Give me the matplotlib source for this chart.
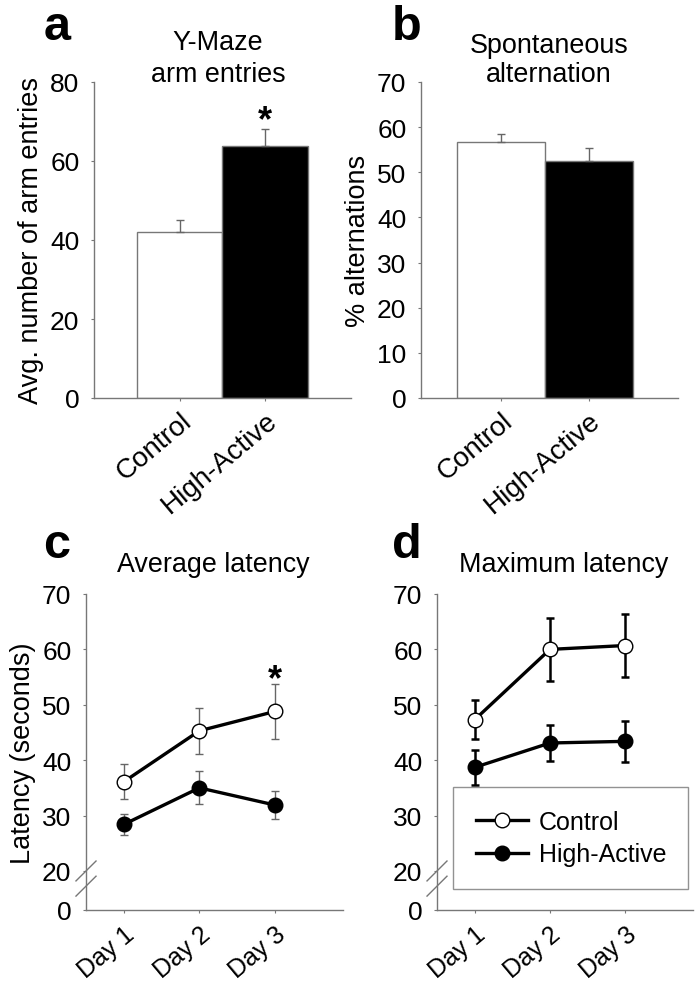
import matplotlib
matplotlib.use("Agg")
import matplotlib.pyplot as plt

plt.rcParams['font.family'] = ['Liberation Sans', 'DejaVu Sans']

# ---- data ----
groups = ["Control", "High-Active"]
entries_mean = [42.0, 63.9]
entries_err = [3.1, 4.1]

alt_mean = [56.8, 52.6]
alt_err = [1.7, 2.8]

days = ["Day 1", "Day 2", "Day 3"]
avg_ctrl = [36.1, 45.3, 48.8]
avg_ctrl_err = [3.2, 4.1, 4.9]
avg_high = [28.4, 35.0, 31.9]
avg_high_err = [1.9, 3.0, 2.6]

max_ctrl = [47.3, 60.0, 60.7]
max_ctrl_err = [3.5, 5.7, 5.6]
max_high = [38.7, 43.1, 43.4]
max_high_err = [3.1, 3.3, 3.7]

AX_GRAY = "#777777"
TICK_FS = 19
LABEL_FS = 19.5
TITLE_FS = 19.4
BREAK_AT = 12.95  # where "0" sits below the axis break

fig = plt.figure(figsize=(6.97, 9.87), dpi=100)
W, H = 697, 987


def add_axes(left, right, top, bottom):
    return fig.add_axes([left / W, 1 - bottom / H, (right - left) / W, (bottom - top) / H])


def ftext(x, y, s, **kw):
    # place text using pixel coords measured from the top-left
    fig.text(x / W, 1 - y / H, s, **kw)


def style(ax, xtick_fs, xpad):
    for s in ["top", "right"]:
        ax.spines[s].set_visible(False)
    for s in ["left", "bottom"]:
        ax.spines[s].set_color(AX_GRAY)
        ax.spines[s].set_linewidth(1.0)
    ax.tick_params(axis="both", colors=AX_GRAY, length=2.5, width=0.8, labelcolor="black")
    ax.tick_params(axis="y", pad=8, labelsize=TICK_FS)
    ax.tick_params(axis="x", pad=xpad, labelsize=xtick_fs)


def bar_panel(ax, means, errs, xlim, ymax, ystep, ylabel):
    x = range(len(groups))
    ax.bar(x, means, width=1.0, color=["white", "black"], edgecolor=AX_GRAY, linewidth=1.0)
    ax.errorbar(x, means, yerr=[[0] * len(errs), errs], fmt="none", ecolor="#666666",
                elinewidth=1.0, capsize=2.6, capthick=1.0)
    ax.set_xlim(*xlim)
    ax.set_ylim(0, ymax)
    ax.set_yticks(range(0, ymax + 1, ystep))
    ax.set_xticks(list(x))
    ax.set_xticklabels(groups, rotation=40, ha="right", va="top", rotation_mode="anchor")
    ax.set_ylabel(ylabel, fontsize=LABEL_FS, labelpad=4)
    style(ax, 20, 4)


def line_panel(ax, ctrl, ctrl_err, high, high_err, err_color, err_lw):
    x = range(len(days))
    ax.errorbar(x, ctrl, yerr=ctrl_err, fmt="none", ecolor=err_color, elinewidth=err_lw,
                capsize=2.8, capthick=err_lw, zorder=2)
    ax.errorbar(x, high, yerr=high_err, fmt="none", ecolor=err_color, elinewidth=err_lw,
                capsize=2.8, capthick=err_lw, zorder=2)
    ax.plot(x, ctrl, "-o", color="black", lw=2.4, ms=10.5, mfc="white", mec="black",
            mew=1.0, label="Control", zorder=3)
    ax.plot(x, high, "-o", color="black", lw=2.4, ms=10.5, mfc="black", mec="black",
            mew=1.0, label="High-Active", zorder=3)
    ax.set_xlim(-0.5, 2.9)
    ax.set_ylim(BREAK_AT, 70)
    ax.set_yticks([BREAK_AT, 20, 30, 40, 50, 60, 70])
    ax.set_yticklabels(["0", "20", "30", "40", "50", "60", "70"])
    ax.set_xticks(list(x))
    ax.set_xticklabels(days, rotation=40, ha="right", va="top", rotation_mode="anchor")
    style(ax, 18, 6)
    # axis break marks
    for y0 in (0.092, 0.044):
        ax.plot([-0.039, 0.039], [y0, y0 + 0.063], color=AX_GRAY, lw=1.0,
                transform=ax.transAxes, clip_on=False)


# panel a
ax_a = add_axes(94, 351, 83, 399)
bar_panel(ax_a, entries_mean, entries_err, (-1.0, 2.0), 80, 20, "Avg. number of arm entries")
ax_a.text(1, 67.8, "*", ha="center", va="baseline", fontsize=26, fontweight="bold")
ftext(218, 50, "Y-Maze", ha="center", va="baseline", fontsize=TITLE_FS)
ftext(218, 82, "arm entries", ha="center", va="baseline", fontsize=TITLE_FS)
ftext(44, 40, "a", fontsize=35, fontweight="bold", va="baseline")

# panel b
ax_b = add_axes(421, 678, 83, 399)
bar_panel(ax_b, alt_mean, alt_err, (-0.91, 2.01), 70, 10, "% alternations")
ftext(549, 53, "Spontaneous", ha="center", va="baseline", fontsize=TITLE_FS)
ftext(549, 82, "alternation", ha="center", va="baseline", fontsize=TITLE_FS)
ftext(392, 40, "b", fontsize=35, fontweight="bold", va="baseline")

# panel c
ax_c = add_axes(86, 343, 595, 911)
line_panel(ax_c, avg_ctrl, avg_ctrl_err, avg_high, avg_high_err, "#666666", 1.0)
ax_c.set_ylabel("Latency (seconds)", fontsize=LABEL_FS, labelpad=4)
ax_c.text(2, 52.8, "*", ha="center", va="baseline", fontsize=26, fontweight="bold")
ftext(213, 572, "Average latency", ha="center", va="baseline", fontsize=TITLE_FS)
ftext(43, 558, "c", fontsize=35, fontweight="bold", va="baseline")

# panel d
ax_d = add_axes(437, 693, 595, 911)
line_panel(ax_d, max_ctrl, max_ctrl_err, max_high, max_high_err, "black", 1.8)
ftext(564, 572, "Maximum latency", ha="center", va="baseline", fontsize=TITLE_FS)
ftext(392, 558, "d", fontsize=35, fontweight="bold", va="baseline")
leg = ax_d.legend(loc="lower left", bbox_to_anchor=((453 - 437) / 256, (911 - 890) / 316,
                                                     (688 - 453) / 256, (890 - 793) / 316),
                  mode="expand", fontsize=18, frameon=True, fancybox=False,
                  handlelength=2.1, borderpad=0.9, labelspacing=0.35, handletextpad=0.45,
                  borderaxespad=0)
leg.get_frame().set_edgecolor(AX_GRAY)
leg.get_frame().set_linewidth(1.0)

fig.savefig("out.png", dpi=100)
